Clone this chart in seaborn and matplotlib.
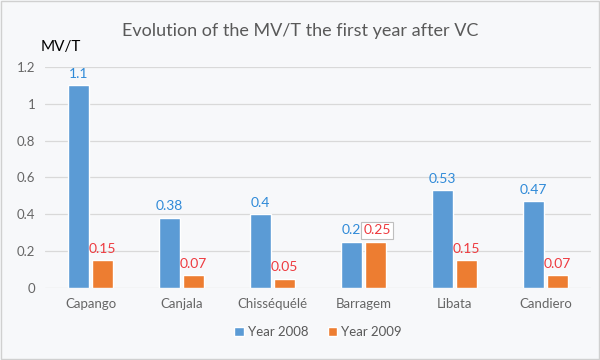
import numpy as np
import pandas as pd
import matplotlib as mpl
mpl.use('Agg')
import matplotlib.pyplot as plt
import seaborn as sns

sites = ['Capango', 'Canjala', 'Chisséquélé', 'Barragem', 'Libata', 'Candiero']
mvt_2008 = [1.1, 0.38, 0.4, 0.25, 0.53, 0.47]
mvt_2009 = [0.15, 0.07, 0.05, 0.25, 0.15, 0.07]
labels_2008 = ['1.1', '0.38', '0.4', '0.2', '0.53', '0.47']
labels_2009 = ['0.15', '0.07', '0.05', '0.25', '0.15', '0.07']
series = ['Year 2008', 'Year 2009']

df = pd.concat([
    pd.DataFrame({'site': sites, 'value': mvt_2008, 'year': series[0]}),
    pd.DataFrame({'site': sites, 'value': mvt_2009, 'year': series[1]}),
])

sns.set_style('white')
plt.rcParams['font.family'] = ['Lato', 'DejaVu Sans']

bg = '#f7f8fa'
fig = plt.figure(figsize=(6, 3.6), dpi=100, facecolor=bg)
ax = fig.add_axes([0.075, 0.2, 0.91, 0.614])
ax.set_facecolor(bg)

sns.barplot(data=df, x='site', y='value', hue='year', order=sites,
            palette={'Year 2008': '#5b9bd5', 'Year 2009': '#ed7d31'},
            saturation=1, width=0.52, gap=0.12, ax=ax, legend=True, zorder=3)

ax.set_ylim(0, 1.2)
ax.set_xlim(-0.5, len(sites) - 0.5)
ax.set_yticks(np.arange(0, 1.21, 0.2))
ax.set_yticklabels(['0', '0.2', '0.4', '0.6', '0.8', '1', '1.2'])
ax.grid(axis='y', color='#d9d9d9', linewidth=0.9, zorder=0)
for s in ax.spines.values():
    s.set_visible(False)
ax.tick_params(axis='both', length=0, labelsize=9.5, colors='#666666', pad=7)
ax.set_xlabel('')
ax.set_ylabel('')

# data labels
for cont, labs, col in zip(ax.containers, [labels_2008, labels_2009], ['#2f8ad8', '#ee3a3f']):
    for bar, lab in zip(cont, labs):
        x = bar.get_x() + bar.get_width() / 2
        y = bar.get_height()
        kw = {}
        if lab == '0.25':
            kw['bbox'] = dict(boxstyle='square,pad=0.15', fc='white', ec='#bfbfbf', lw=0.8)
        ax.text(x + (0.02 if lab == '0.25' else 0), y + 0.03, lab, ha='center', va='bottom',
                color=col, fontsize=10, zorder=5, **kw)

leg = ax.legend(loc='upper center', bbox_to_anchor=(0.5, -0.12), ncol=2, frameon=False,
                fontsize=9.5, handlelength=0.7, handleheight=0.7, handletextpad=0.3,
                columnspacing=1.5)
for t in leg.get_texts():
    t.set_color('#595959')

fig.text(0.5, 0.915, 'Evolution of the MV/T the first year after VC', ha='center', va='center',
         fontsize=13, color='#595959')
fig.text(0.068, 0.87, 'MV/T', ha='left', va='center', fontsize=11, color='black')

fig.add_artist(plt.Rectangle((0.002, 0.003), 0.996, 0.994, transform=fig.transFigure,
                             fill=False, ec='#d0d0d0', lw=1))

fig.savefig('out.png', dpi=100, facecolor=bg)
